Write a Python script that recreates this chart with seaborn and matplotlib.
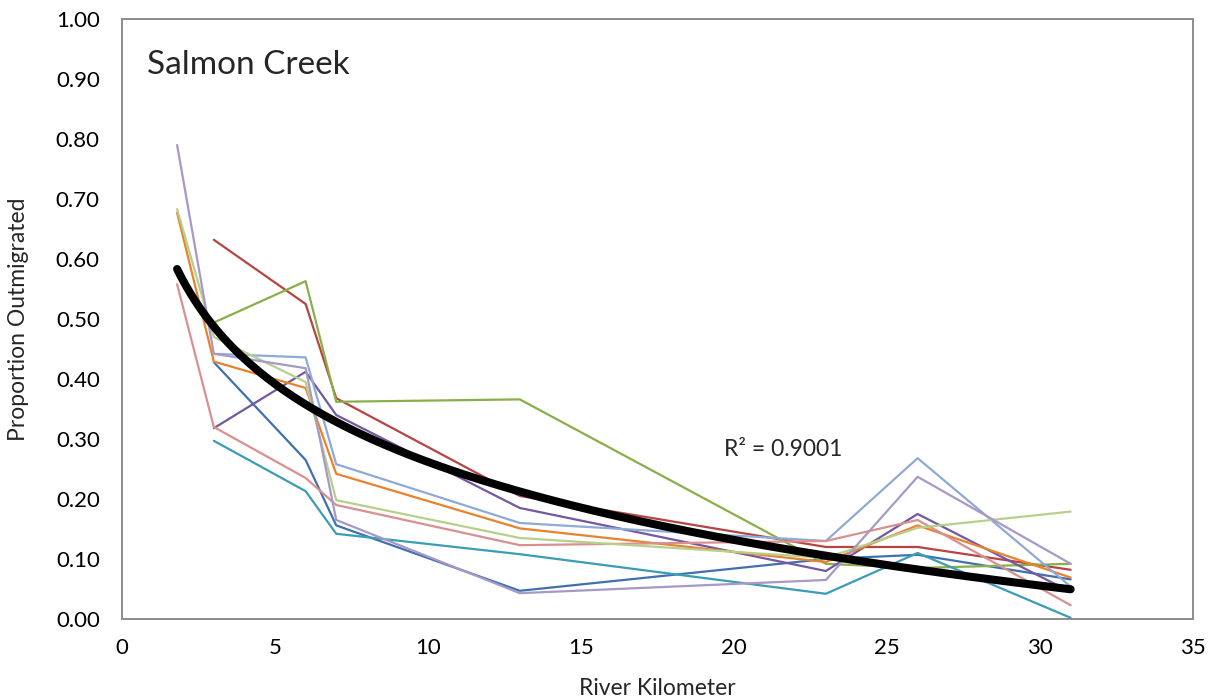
import numpy as np
import pandas as pd
import matplotlib
matplotlib.use('Agg')
import matplotlib.pyplot as plt
import seaborn as sns

# river kilometer of each sampling site
rkm = [1.8, 3, 6, 7, 13, 23, 26, 31]

# proportion outmigrated per release group (None = no value at that site)
grp_dark_blue = [None, 0.428, 0.265, 0.156, 0.047, 0.100, 0.107, 0.066]
grp_red = [None, 0.632, 0.525, 0.368, 0.205, 0.120, 0.120, 0.082]
grp_green = [None, 0.494, 0.563, 0.362, 0.366, 0.092, 0.085, 0.092]
grp_purple = [None, 0.318, 0.412, 0.340, 0.185, 0.080, 0.175, 0.045]
grp_teal = [None, 0.297, 0.213, 0.142, 0.108, 0.042, 0.110, 0.002]
grp_orange = [0.677, 0.429, 0.385, 0.242, 0.151, 0.095, 0.156, 0.069]
grp_light_blue = [None, 0.442, 0.436, 0.258, 0.160, 0.130, 0.268, 0.054]
grp_pink = [0.558, 0.320, 0.235, 0.190, 0.123, 0.130, 0.165, 0.023]
grp_light_green = [0.683, 0.470, 0.395, 0.198, 0.135, 0.102, 0.152, 0.179]
grp_lavender = [0.790, 0.442, 0.418, 0.165, 0.043, 0.065, 0.237, 0.092]

groups = {
    'dark_blue': (grp_dark_blue, '#4170B0'),
    'red': (grp_red, '#B54542'),
    'green': (grp_green, '#8AAE48'),
    'purple': (grp_purple, '#7259A0'),
    'teal': (grp_teal, '#3A9DB5'),
    'orange': (grp_orange, '#E8822C'),
    'light_blue': (grp_light_blue, '#8FAAD5'),
    'pink': (grp_pink, '#D89090'),
    'light_green': (grp_light_green, '#B6D08C'),
    'lavender': (grp_lavender, '#A898C6'),
}

sns.set_style('white')
plt.rcParams['font.family'] = ['Lato', 'DejaVu Sans']

fig = plt.figure(figsize=(12.19, 6.98), dpi=100)
ax = fig.add_axes([0.1001, 0.1132, 0.8786, 0.8596])

rows = []
for nombre, (valores, color) in groups.items():
    df = pd.DataFrame({'rkm': rkm, 'prop': valores}).dropna()
    sns.lineplot(data=df, x='rkm', y='prop', color=color, linewidth=1.6, ax=ax)
    rows.append(df)

# logarithmic trend fitted to the mean at each site
todo = pd.concat(rows)
medias = todo.astype(float).groupby('rkm')['prop'].mean()
pend, ord_ = np.polyfit(np.log(medias.index.values), medias.values, 1)
xs = np.linspace(min(rkm), max(rkm), 200)
trend = pd.DataFrame({'rkm': xs, 'prop': pend * np.log(xs) + ord_})
sns.lineplot(data=trend, x='rkm', y='prop', color='black', linewidth=5.8, ax=ax,
             solid_capstyle='round')

ax.set_xlim(0, 35)
ax.set_ylim(0, 1.0)
ax.set_xticks(range(0, 36, 5))
ax.set_yticks(np.arange(0, 1.01, 0.1))
ax.set_yticklabels([f'{v:.2f}' for v in np.arange(0, 1.01, 0.1)])

for s in ax.spines.values():
    s.set_color('#8c8c8c')
    s.set_linewidth(1.4)
ax.tick_params(axis='both', which='major', direction='out', length=5, width=1.4,
               color='#8c8c8c', labelsize=16, labelcolor='black')
ax.tick_params(axis='y', pad=11)
ax.tick_params(axis='x', pad=9)

ax.set_xlabel('River Kilometer', fontsize=16.5)
ax.set_ylabel('Proportion Outmigrated', fontsize=16.5)
ax.yaxis.set_label_coords(-0.087, 0.5)
ax.xaxis.set_label_coords(0.5, -0.098)

ax.text(0.8, 0.923, 'Salmon Creek', fontsize=24, va='center', ha='left')
ax.text(19.66, 0.283, 'R² = 0.9001', fontsize=16.5, va='center', ha='left')

plt.savefig('out.png', dpi=100)
plt.close()
